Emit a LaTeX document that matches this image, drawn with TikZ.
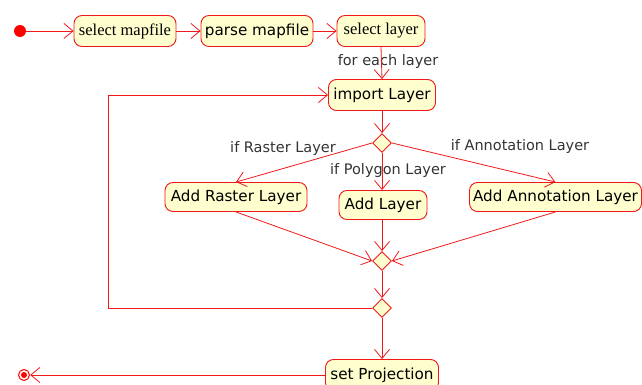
\documentclass[tikz,border=0pt]{standalone}
\usepackage{fontspec}
\setmainfont{Liberation Serif}
\newfontfamily\uisans{DejaVu Sans}
\usetikzlibrary{arrows.meta,shapes.geometric}
\definecolor{actred}{HTML}{F01818}
\definecolor{actfill}{HTML}{FEFECE}
\definecolor{lblgrey}{HTML}{333333}
\tikzset{
  flow/.style={draw=actred, line width=0.8pt, -{Straight Barb[length=9pt,width=15pt,line width=0.8pt]}},
  act/.style={draw=actred, fill=actfill, line width=0.9pt, rounded corners=8pt,
    minimum height=31pt, inner sep=2pt, font=\uisans\fontsize{15.2}{17}\selectfont},
  actserif/.style={act, font=\fontsize{16.5}{18}\selectfont},
  branch/.style={diamond, draw=actred, fill=actfill, line width=0.9pt,
    minimum width=19pt, minimum height=19pt, inner sep=0pt},
  guard/.style={text=lblgrey, font=\uisans\fontsize{14.5}{16}\selectfont, inner sep=0pt}
}
\begin{document}
\begin{tikzpicture}[x=1pt,y=-1pt]
\useasboundingbox (0,0) rectangle (642,385);

% start and end markers
\fill[red] (20,31) circle (6);
\node[circle, minimum size=12pt, inner sep=0pt] (start) at (20,31) {};
\draw[red, line width=1pt] (24,375) circle (5.5);
\fill[red] (24,375) circle (3);
\node[circle, minimum size=12pt, inner sep=0pt] (stop) at (24,375) {};

% actions
\node[actserif, minimum width=102pt] (selmap) at (125,31) {select mapfile};
\node[act, minimum width=112pt] (parse) at (257,31) {parse mapfile};
\node[actserif, minimum width=88pt] (sellayer) at (381,31) {select layer};
\node[act, minimum width=107pt] (import) at (382,95) {import Layer};
\node[act, minimum width=142pt, minimum height=29pt] (raster) at (236,197) {Add Raster Layer};
\node[act, minimum width=88pt, minimum height=29pt] (addlayer) at (383,205) {Add Layer};
\node[act, minimum width=172pt, minimum height=29pt] (annot) at (555.5,197) {Add Annotation Layer};
\node[act, minimum width=113pt] (proj) at (382,375) {set Projection};

% decision / merge points
\node[branch] (d1) at (382,143) {};
\node[branch] (d2) at (382,261) {};
\node[branch] (d3) at (382,308) {};

% guards
\node[guard] at (388,62) {for each layer};
\node[guard] at (283,148) {if Raster Layer};
\node[guard] at (388,170) {if Polygon Layer};
\node[guard] at (520,146) {if Annotation Layer};

% flow
\draw[flow] (start) -- (selmap);
\draw[flow] (selmap) -- (parse);
\draw[flow] (parse) -- (sellayer);
\draw[flow] (sellayer.south) -- (import.north);
\draw[flow] (import) -- (d1);
\draw[flow] (d1.west) -- (raster.north);
\draw[flow] (d1.south) -- (addlayer.north -| d1.south);
\draw[flow] (d1.east) -- (annot.north);
\draw[flow] (raster.south) -- (d2.west);
\draw[flow] (addlayer.south -| d2.north) -- (d2.north);
\draw[flow] (annot.south) -- (d2.east);
\draw[flow] (d2) -- (d3);
\draw[flow] (d3.west) -- (108,308) -- (108,95) -- (import.west);
\draw[flow] (d3.south) -- (proj.north);
\draw[flow] (proj.west) -- (stop);
\end{tikzpicture}
\end{document}
